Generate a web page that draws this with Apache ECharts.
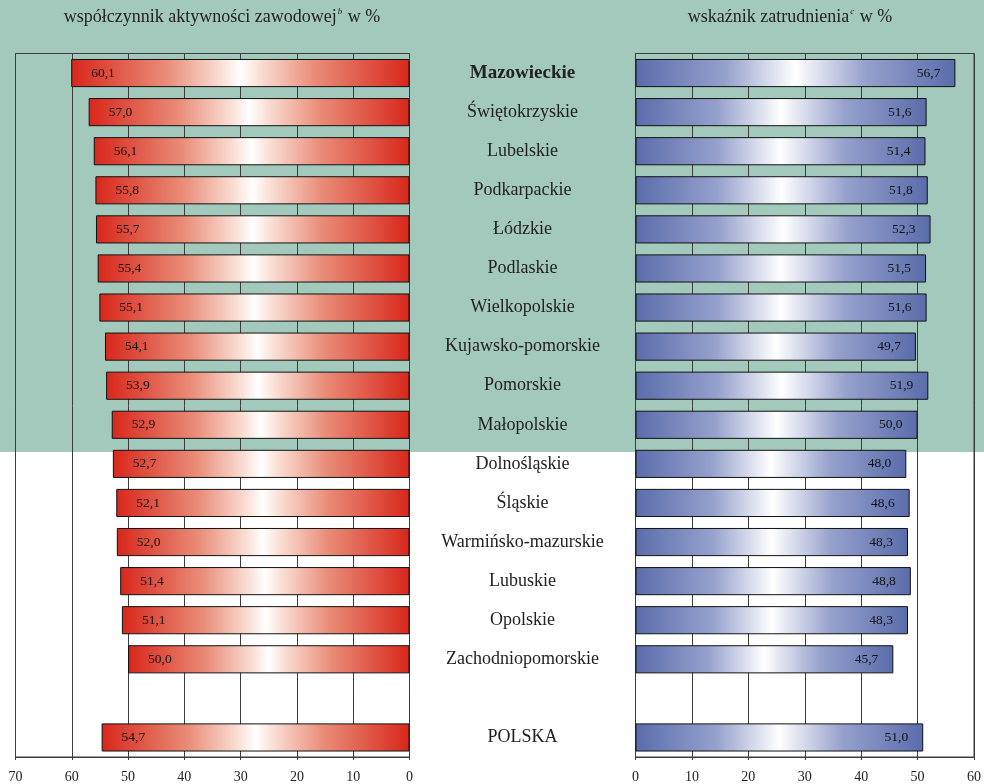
<!DOCTYPE html>
<html><head><meta charset="utf-8">
<script src="https://cdn.jsdelivr.net/npm/echarts@6/dist/echarts.min.js"></script>
<style>html,body{margin:0;padding:0;background:#fff}#c{width:984px;height:784px}</style>
</head><body><div id="c"></div>
<script>
var categories = ['Mazowieckie','Świętokrzyskie','Lubelskie','Podkarpackie','Łódzkie','Podlaskie','Wielkopolskie','Kujawsko-pomorskie','Pomorskie','Małopolskie','Dolnośląskie','Śląskie','Warmińsko-mazurskie','Lubuskie','Opolskie','Zachodniopomorskie','','POLSKA'];
var activityRate = [60.1,57.0,56.1,55.8,55.7,55.4,55.1,54.1,53.9,52.9,52.7,52.1,52.0,51.4,51.1,50.0,null,54.7];
var employmentRate = [56.7,51.6,51.4,51.8,52.3,51.5,51.6,49.7,51.9,50.0,48.0,48.6,48.3,48.8,48.3,45.7,null,51.0];
var leftTicks = [0,10,20,30,40,50,60,70];
var rightTicks = [0,10,20,30,40,50,60];

var FONT = '"Liberation Serif", "DejaVu Serif", serif';
var GRIDC = '#3c3c3c';
function fmt(v){ return v.toFixed(1).replace('.', ','); }
function grad(edge, mid){
  return new echarts.graphic.LinearGradient(0,0,1,0,[
    {offset:0,color:edge},{offset:0.28,color:mid},{offset:0.44,color:'#fbe9e3'.replace('#fbe9e3', edge===RED?'#f9ddd3':'#e2e5f1')},
    {offset:0.5,color:'#ffffff'},
    {offset:0.56,color:edge===RED?'#f9ddd3':'#e2e5f1'},{offset:0.72,color:mid},{offset:1,color:edge}]);
}
var RED = '#d8271b', BLUE = '#5a6cab';
var redGrad = grad(RED, '#e98c78');
var blueGrad = grad(BLUE, '#95a0cc');

function xAxisCfg(idx, max, inverse){
  return {gridIndex: idx, type:'value', min:0, max:max, interval:10, inverse:inverse,
    axisLine:{show:true, lineStyle:{color:GRIDC}}, axisTick:{show:true,length:3,lineStyle:{color:GRIDC}},
    splitLine:{show:true, lineStyle:{color:GRIDC, width:1}},
    axisLabel:{color:'#222', fontFamily:FONT, fontSize:14, margin:13}};
}
var chart = echarts.init(document.getElementById('c'), null, {renderer:'canvas'});
chart.setOption({
  animation:false,
  backgroundColor:'#ffffff',
  graphic:[
    {type:'rect', z:-10, silent:true, shape:{x:0,y:0,width:984,height:452}, style:{fill:'#a3c8bc'}},
    {type:'text', z:10, style:{x:222, y:17, text:'{m|współczynnik aktywności zawodowej}{s|b}{m| w %}', align:'center', verticalAlign:'middle',
      rich:{m:{fontFamily:FONT,fontSize:18,fill:'#222'}, s:{fontFamily:FONT,fontSize:9,fontStyle:'italic',fill:'#222',padding:[0,1,11,1]}}}},
    {type:'text', z:10, style:{x:790, y:17, text:'{m|wskaźnik zatrudnienia}{s|c}{m| w %}', align:'center', verticalAlign:'middle',
      rich:{m:{fontFamily:FONT,fontSize:18,fill:'#222'}, s:{fontFamily:FONT,fontSize:9,fontStyle:'italic',fill:'#222',padding:[0,1,11,1]}}}}
  ],
  grid:[
    {left:15.5, right:574.5, top:53.5, bottom:26.5, show:true, borderColor:GRIDC, borderWidth:1, backgroundColor:'transparent'},
    {left:635.5, right:7.5, top:53.5, bottom:26.5, show:true, borderColor:GRIDC, borderWidth:1, backgroundColor:'transparent'}
  ],
  xAxis:[ xAxisCfg(0,70,true), xAxisCfg(1,60,false) ],
  yAxis:[
    {gridIndex:0, type:'category', data:categories, inverse:true, axisLine:{show:false}, axisTick:{show:false}, axisLabel:{show:false}, splitLine:{show:false}},
    {gridIndex:1, type:'category', data:categories, inverse:true, axisLine:{show:false}, axisTick:{show:false}, splitLine:{show:false},
      axisLabel:{show:true, align:'center', margin:113, fontFamily:FONT, fontSize:18, color:'#222',
        formatter:function(v){ return v==='Mazowieckie' ? '{b|'+v+'}' : v; },
        rich:{b:{fontFamily:FONT, fontSize:19, fontWeight:'bold', color:'#222'}}}}
  ],
  series:[
    {type:'bar', xAxisIndex:0, yAxisIndex:0, data:activityRate, barCategoryGap:'28%',
      itemStyle:{color:redGrad, borderColor:'#111', borderWidth:1},
      label:{show:true, position:'insideLeft', distance:20, fontFamily:FONT, fontSize:13.5, color:'#111', formatter:function(p){return fmt(p.value);}}},
    {type:'bar', xAxisIndex:1, yAxisIndex:1, data:employmentRate, barCategoryGap:'28%',
      itemStyle:{color:blueGrad, borderColor:'#111', borderWidth:1},
      label:{show:true, position:'insideRight', distance:15, fontFamily:FONT, fontSize:13.5, color:'#111', formatter:function(p){return fmt(p.value);}}}
  ]
});
</script></body></html>
